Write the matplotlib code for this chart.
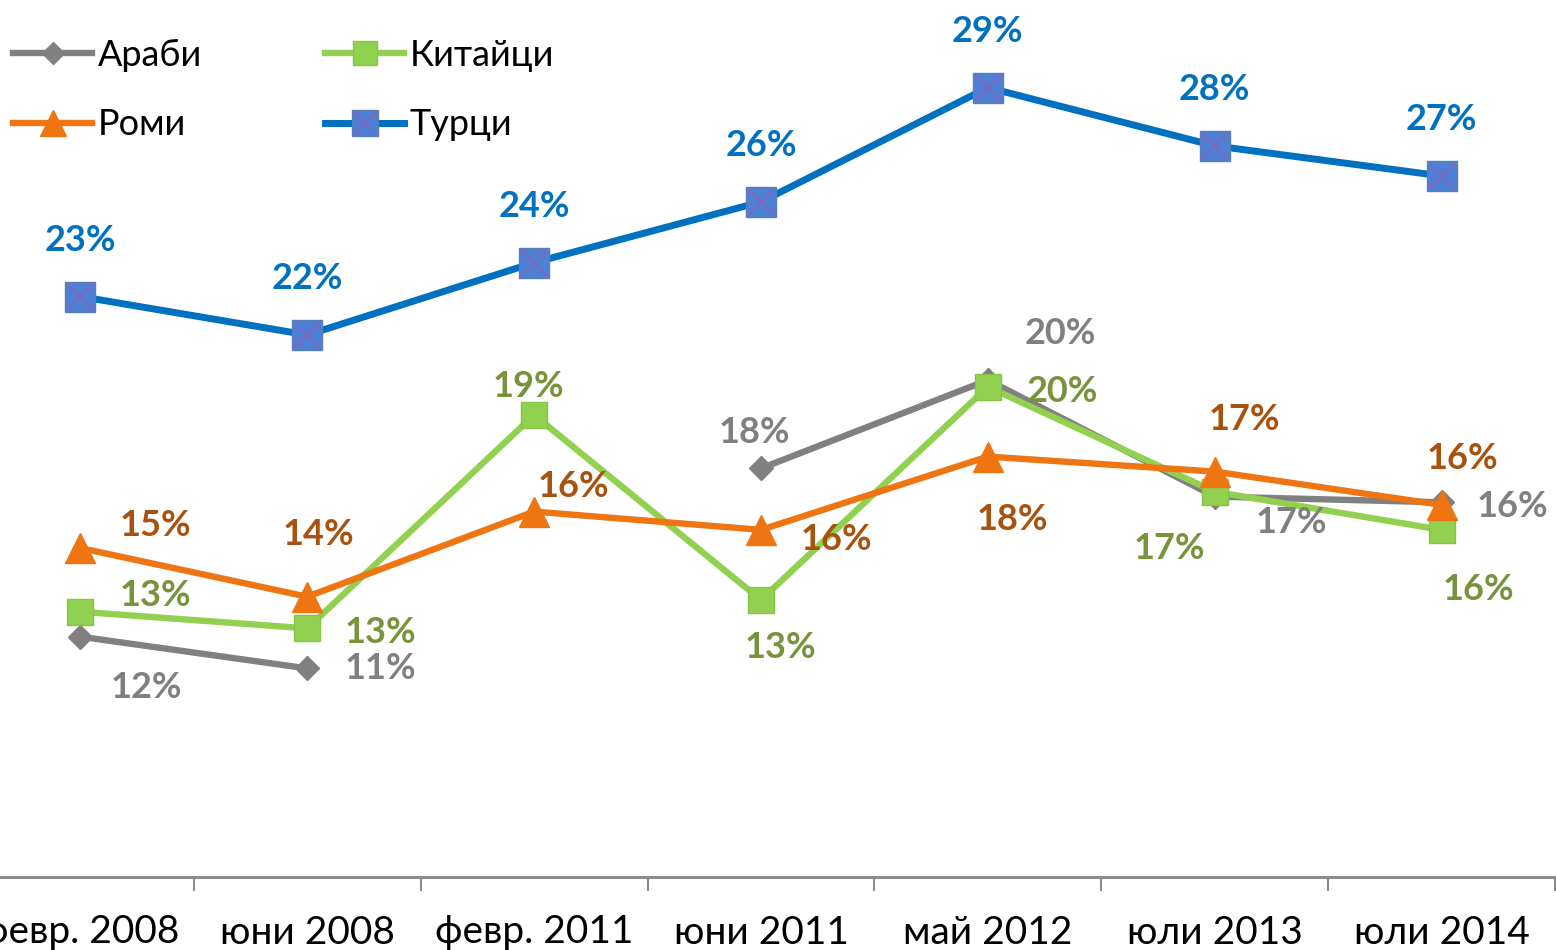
import numpy as np
import matplotlib
matplotlib.use("Agg")
import matplotlib.pyplot as plt

# ---------------- data ----------------
categories = ['февр. 2008', 'юни 2008', 'февр. 2011', 'юни 2011',
              'май 2012', 'юли 2013', 'юли 2014']
arabs = [12.29, 11.30, np.nan, 17.55, 20.31, 16.67, 16.49]
chinese = [13.07, 12.55, 19.22, 13.44, 20.10, 16.82, 15.63]
roma = [15.06, 13.54, 16.20, 15.63, 17.92, 17.45, 16.41]
turks = [22.92, 21.72, 23.98, 25.88, 29.45, 27.63, 26.69]
series_names = ['Араби', 'Китайци', 'Роми', 'Турци']

# ---------------- style ----------------
FONT = ['Lato', 'DejaVu Sans']
plt.rcParams['font.family'] = FONT

W, H = 1556, 950
fig = plt.figure(figsize=(W / 100, H / 100), dpi=100)
fig.patch.set_facecolor('white')

ax_left_px, ax_right_px = -33, 1555
ax_bottom_px = 877
ax = fig.add_axes([ax_left_px / W, (H - ax_bottom_px) / H,
                   (ax_right_px - ax_left_px) / W, ax_bottom_px / H])
ax.set_xlim(-0.5, 6.5)
ax.set_ylim(4.78125, 32.1875)
ax.patch.set_alpha(0)

x = np.arange(len(categories))

gray = '#808080'
green = '#92D050'
orange = '#EE7512'
blue = '#0070C0'

l_ar, = ax.plot(x, arabs, color=gray, lw=4.6, marker='D', ms=12,
                mfc=gray, mec=gray, zorder=3)
l_ch, = ax.plot(x, chinese, color=green, lw=4.6, marker='s', ms=19,
                mfc=green, mec='#86C445', mew=1, zorder=4)
l_ro, = ax.plot(x, roma, color=orange, lw=4.6, marker='^', ms=21,
                mfc=orange, mec=orange, zorder=5)
l_tu, = ax.plot(x, turks, color=blue, lw=5.0, marker='s', ms=21,
                mfc='#4E80D6', mec='#5B7DB8', mew=1, zorder=6)
l_tx, = ax.plot(x, turks, ls='none', marker='x', ms=19, mec='#8A63B8',
                mew=1.2, zorder=7)

# data labels: offsets in pixels (dx right, dy down)
label_style = {
    'ar': (arabs, gray, [(66, 51), (73, 0), None, (-7, -36), (72, -47), (77, 26), (71, 4)]),
    'ch': (chinese, '#77933C', [(75, -16), (73, 4), (-6, -28), (19, 48), (74, 5), (-45, 57), (37, 60)]),
    'ro': (roma, '#A9520F', [(75, -23), (11, -62), (39, -25), (75, 10), (25, 63), (30, -52), (21, -46)]),
    'tu': (turks, blue, [(0, -56)] * 7),
}
for key, (vals, col, offs) in label_style.items():
    for i, v in enumerate(vals):
        if np.isnan(v) or offs[i] is None:
            continue
        dx, dy = offs[i]
        ax.annotate(f"{v:.0f}%", (x[i], v), xytext=(dx, -dy),
                    textcoords='offset pixels', ha='center', va='center',
                    fontsize=26, fontweight='bold', color=col, zorder=10)

# axes styling
for s in ['left', 'right', 'top']:
    ax.spines[s].set_visible(False)
ax.spines['bottom'].set_color('#8C8C8C')
ax.spines['bottom'].set_linewidth(2.2)
ax.yaxis.set_visible(False)
ax.set_xticks(np.arange(-0.5, 7, 1.0))
ax.set_xticklabels([])
ax.tick_params(axis='x', which='major', length=10, width=1.5, color='#8C8C8C',
               direction='out')
ax.set_xticks(x, minor=True)
ax.set_xticklabels(categories, minor=True)
ax.tick_params(axis='x', which='minor', length=0, pad=27, labelsize=28,
               labelcolor='black')

# legend
leg = fig.legend([l_ar, l_ro, l_ch, (l_tu, l_tx)],
                 ['Араби', 'Роми', 'Китайци', 'Турци'],
                 loc='upper left', bbox_to_anchor=(13 / W, 1 - 39 / H),
                 ncol=2, frameon=False, fontsize=26, borderpad=0,
                 borderaxespad=0, handlelength=2.2, handletextpad=0.15,
                 labelspacing=1.0, columnspacing=3.4, markerscale=0.9)

fig.savefig('out.png', dpi=100, facecolor='white')
